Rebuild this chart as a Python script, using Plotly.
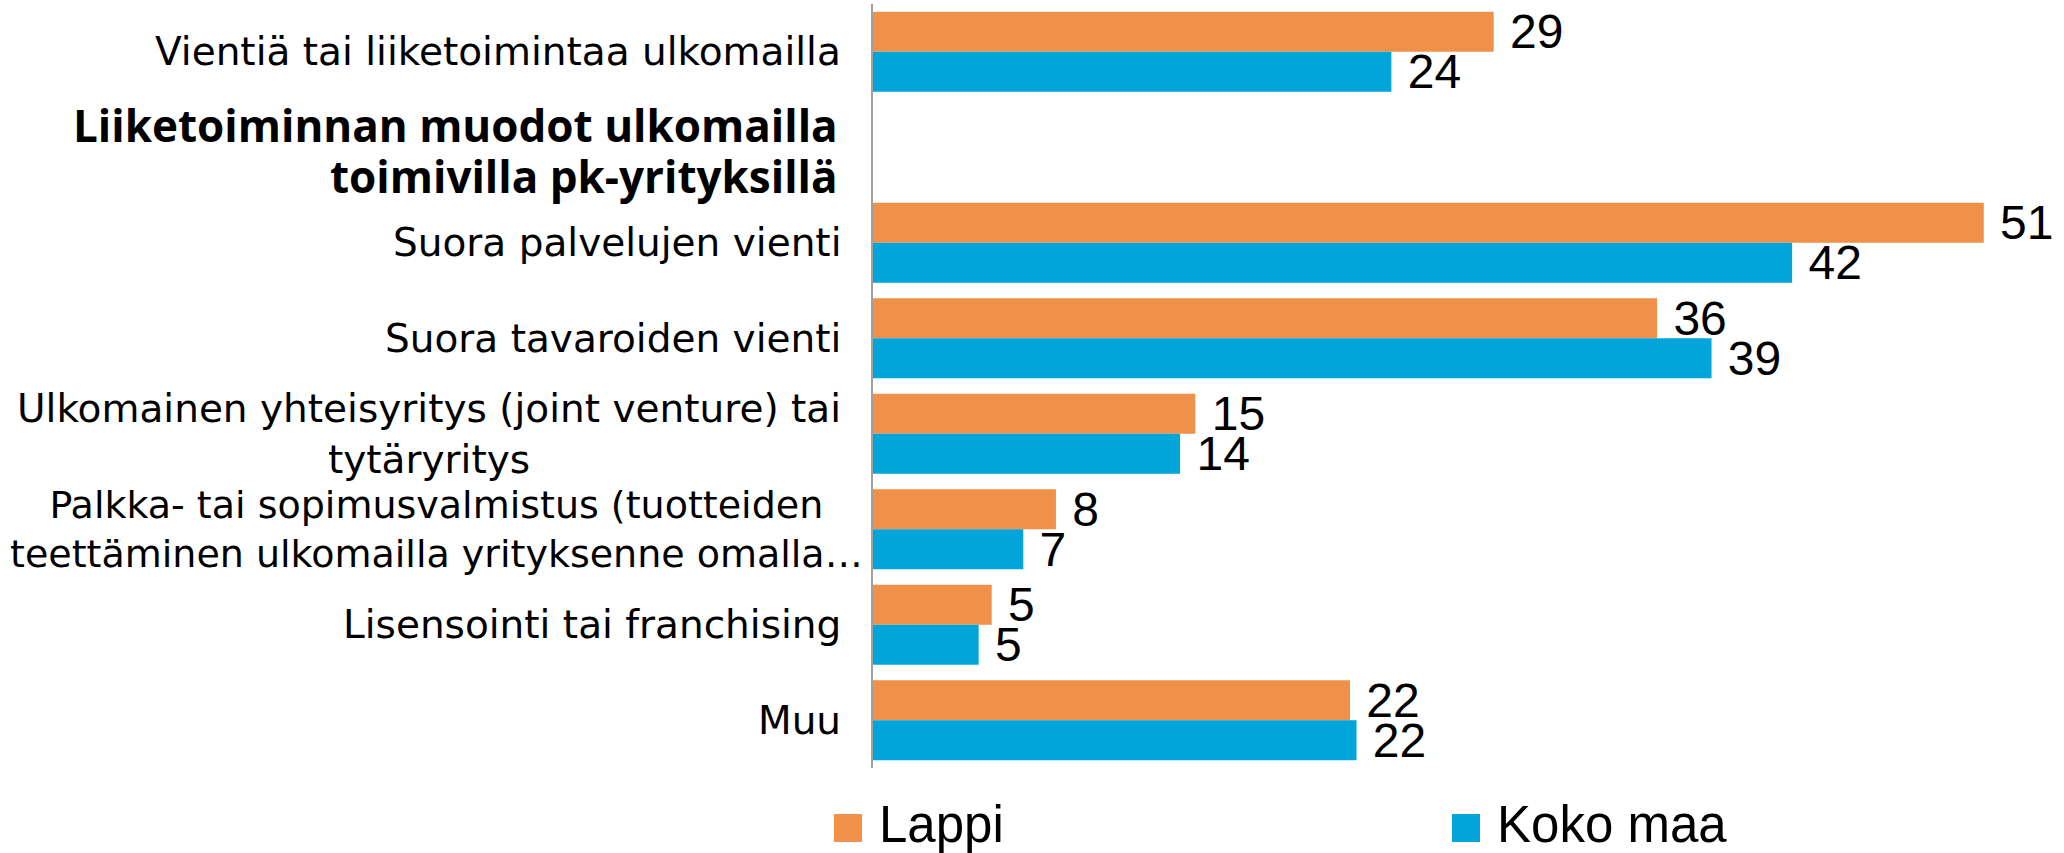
import plotly.graph_objects as go

# ---------------- data ----------------
categories = [
    "Vientiä tai liiketoimintaa ulkomailla",
    "Liiketoiminnan muodot ulkomailla toimivilla pk-yrityksillä",
    "Suora palvelujen vienti",
    "Suora tavaroiden vienti",
    "Ulkomainen yhteisyritys (joint venture) tai<br>tytäryritys",
    "Palkka- tai sopimusvalmistus (tuotteiden<br>teettäminen ulkomailla yrityksenne omalla…",
    "Lisensointi tai franchising",
    "Muu",
]
header_index = 1
header_lines = ["Liiketoiminnan muodot ulkomailla", "toimivilla pk-yrityksillä"]

series_names = ["Lappi", "Koko maa"]
lappi = [28.5, None, 51.0, 36.0, 14.8, 8.4, 5.45, 21.9]
koko_maa = [23.8, None, 42.2, 38.5, 14.1, 6.9, 4.85, 22.2]
series_values = [lappi, koko_maa]
colors = ["#F0914A", "#02A5DA"]

# ---------------- figure ----------------
W, H = 2064, 853
ML, MR, MT, MB = 873, 10, 4, 85
plot_w = W - ML - MR
plot_h = H - MT - MB

value_font = dict(family="Liberation Sans Narrow, Arial Narrow, Liberation Sans, sans-serif",
                  size=48, color="#000000")
label_family = "DejaVu Sans, Verdana, sans-serif"
label_size = 39
header_font = dict(family="Open Sans, Lato, sans-serif", size=44, color="#000000")
legend_font = dict(family="Liberation Sans, Arial, sans-serif", size=51, color="#000000")

fig = go.Figure()
for name, vals, col in zip(series_names, series_values, colors):
    fig.add_trace(go.Bar(
        y=categories, x=vals, name=name, orientation="h",
        marker=dict(color=col, line=dict(width=0)),
        texttemplate="\u00a0%{x:.0f}", textposition="outside",
        textfont=value_font, constraintext="none", cliponaxis=False,
        showlegend=False, hoverinfo="x+name",
    ))

# category labels (centered multi-line, right-anchored next to the axis)
label_xshift = {5: -8}
label_size_override = {5: 38}
annotations = []
for i, cat in enumerate(categories):
    if i == header_index:
        continue
    annotations.append(dict(
        xref="paper", yref="y", x=0, y=cat, xanchor="right", yanchor="middle",
        xshift=label_xshift.get(i, -30), text=cat, showarrow=False, align="center",
        font=dict(family=label_family, size=label_size_override.get(i, label_size),
                  color="#000000"),
    ))

# bold header in the empty row
for j, line in enumerate(header_lines):
    annotations.append(dict(
        xref="paper", yref="y", x=0, y=categories[header_index],
        xanchor="right", yanchor="middle", xshift=-33, yshift=(22 if j == 0 else -29),
        text="<b>" + line + "</b>", showarrow=False, align="right", font=header_font,
    ))

# custom legend (large square swatches)
def px_x(px):
    return (px - ML) / plot_w

def px_y(py):
    return (H - MB - py) / plot_h

legend_sq_left = [834, 1452]
shapes = []
for name, col, sx in zip(series_names, colors, legend_sq_left):
    shapes.append(dict(type="rect", xref="paper", yref="paper",
                       x0=px_x(sx), x1=px_x(sx + 28), y0=px_y(842), y1=px_y(814),
                       fillcolor=col, line=dict(width=0)))
    annotations.append(dict(xref="paper", yref="paper", x=px_x(sx + 43), y=px_y(824),
                            xanchor="left", yanchor="middle", text=name, showarrow=False,
                            font=legend_font))

fig.update_layout(
    width=W, height=H,
    margin=dict(l=ML, r=MR, t=MT, b=MB, pad=0),
    paper_bgcolor="white", plot_bgcolor="white",
    barmode="group", bargap=0.162, bargroupgap=0,
    showlegend=False,
    xaxis=dict(range=[0, plot_w / 21.78], visible=False, fixedrange=True),
    yaxis=dict(type="category", categoryorder="array", categoryarray=categories,
               range=[len(categories) - 0.5, -0.5],
               showline=True, linecolor="#A0A0A0", linewidth=1.5,
               showticklabels=False, ticks="", showgrid=False, zeroline=False),
    annotations=annotations,
    shapes=shapes,
)

fig.write_html("out.html", config={"displayModeBar": False},
               post_script="document.body.style.margin='0';")
